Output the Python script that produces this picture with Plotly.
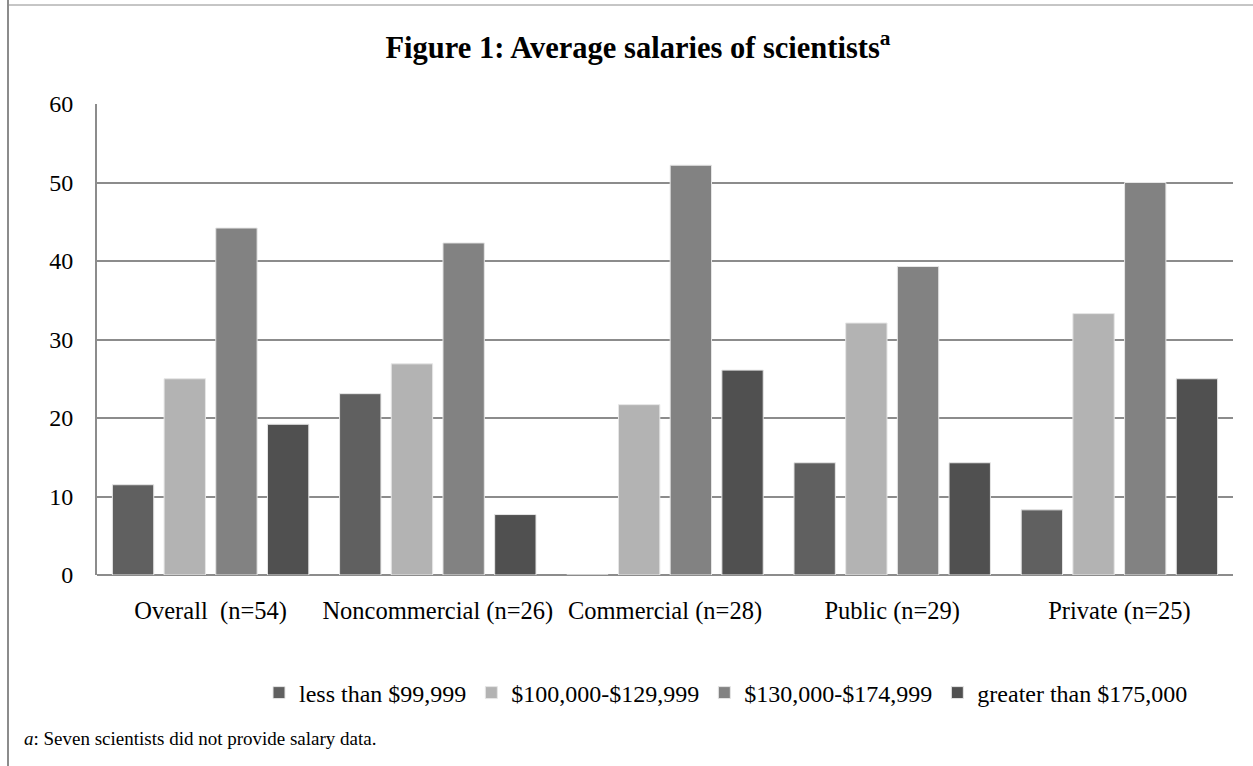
import plotly.graph_objects as go

categories = ["Overall  (n=54)", "Noncommercial (n=26)", "Commercial (n=28)", "Public (n=29)", "Private (n=25)"]
series_names = ["less than $99,999", "$100,000-$129,999", "$130,000-$174,999", "greater than $175,000"]
less_99 = [11.5, 23.1, 0, 14.3, 8.3]
s100_129 = [25.0, 26.9, 21.7, 32.1, 33.3]
s130_174 = [44.2, 42.3, 52.2, 39.3, 50.0]
greater_175 = [19.2, 7.7, 26.1, 14.3, 25.0]
y_ticks = [0, 10, 20, 30, 40, 50, 60]

values = [less_99, s100_129, s130_174, greater_175]
colors = ["#606060", "#b3b3b3", "#828282", "#505050"]

W, H = 1253, 766
L, R, T, B = 97, 20, 104, 191
pw, ph = W - L - R, H - T - B

def px_x(x):
    return (x - L) / pw

def px_y(y):
    return (H - B - y) / ph

FONT = "Liberation Serif, Times New Roman, serif"

fig = go.Figure()
for name, vals, col in zip(series_names, values, colors):
    fig.add_trace(go.Bar(
        x=categories, y=vals, name=name,
        marker=dict(color=col, line=dict(color="#e6e6e6", width=1)),
    ))

fig.update_layout(
    width=W, height=H,
    margin=dict(l=L, r=R, t=T, b=B),
    paper_bgcolor="white", plot_bgcolor="white",
    barmode="group", bargap=0.09, bargroupgap=0.2,
    font=dict(family=FONT, color="black", size=20),
    title=dict(
        text="<b>Figure 1: Average salaries of scientists<sup>a</sup></b>",
        x=638 / W, xanchor="center", y=1 - 47 / H, yanchor="middle",
        font=dict(family=FONT, size=30.5, color="black"),
    ),
    xaxis=dict(
        showgrid=False, showline=False, ticks="",
        ticklabelstandoff=18,
        tickfont=dict(family=FONT, size=24.5, color="black"),
        fixedrange=True,
    ),
    yaxis=dict(
        range=[0, 60], tickvals=y_ticks, showgrid=True,
        gridcolor="#8c8c8c", gridwidth=2,
        showline=True, linecolor="#8c8c8c", linewidth=2,
        zeroline=True, zerolinecolor="#8c8c8c", zerolinewidth=2,
        ticks="", ticklabelstandoff=17,
        tickfont=dict(family=FONT, size=24, color="black"),
        fixedrange=True,
    ),
    legend=dict(
        orientation="h", x=px_x(726), xanchor="center",
        y=px_y(693), yanchor="middle",
        font=dict(family=FONT, size=24, color="black"),
        itemwidth=30, traceorder="normal",
    ),
    shapes=[
        dict(type="line", xref="paper", yref="paper",
             x0=px_x(8), x1=px_x(8), y0=px_y(0), y1=px_y(H),
             line=dict(color="#8c8c8c", width=2)),
        dict(type="line", xref="paper", yref="paper",
             x0=px_x(8), x1=px_x(W), y0=px_y(5), y1=px_y(5),
             line=dict(color="#8c8c8c", width=1)),
    ],
    annotations=[
        dict(text="<i>a</i>: Seven scientists did not provide salary data.",
             xref="paper", yref="paper", x=px_x(22), y=px_y(738),
             xanchor="left", yanchor="middle", showarrow=False,
             font=dict(family=FONT, size=19, color="black")),
    ],
)

fig.write_html("out.html")
